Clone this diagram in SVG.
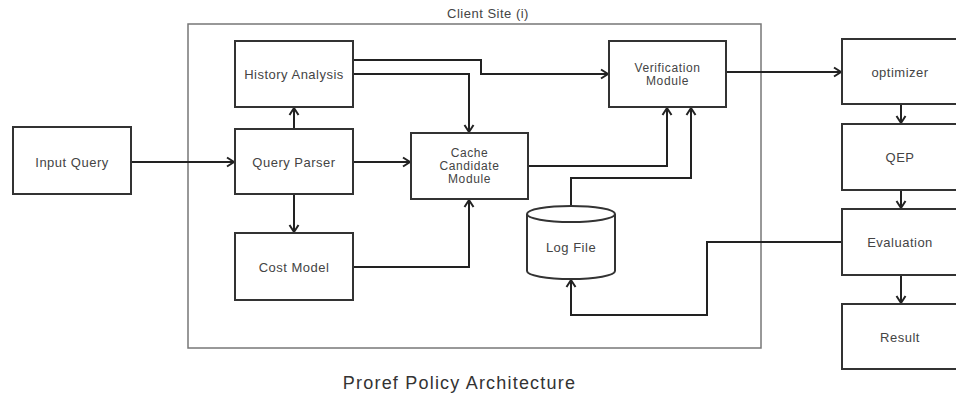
<svg xmlns="http://www.w3.org/2000/svg" width="956" height="403" viewBox="0 0 956 403">
<defs>
<marker id="arr" markerWidth="12" markerHeight="12" refX="10" refY="6" orient="auto" markerUnits="userSpaceOnUse">
<path d="M3,1.5 L10,6 L3,10.5" fill="none" stroke="#222" stroke-width="2"/>
</marker>
<style>
.box{fill:#fff;stroke:#333;stroke-width:2}
.frame{fill:none;stroke:#777;stroke-width:1.5}
.t{font-family:"Liberation Sans",Arial,sans-serif;font-size:13px;letter-spacing:0.5px;fill:#444;text-anchor:middle;dominant-baseline:central}
.m{font-size:12px;letter-spacing:0.6px}
.c{fill:none;stroke:#222;stroke-width:2;marker-end:url(#arr)}
</style>
</defs>
<rect width="956" height="403" fill="#fff"/>
<g id="client-site">
<rect class="frame" x="188" y="24" width="573" height="324"/>
<text class="t" x="488" y="13">Client Site (i)</text>
</g>
<g id="connectors">
<path class="c" d="M131,162 H234"/>
<path class="c" d="M294,129 V108"/>
<path class="c" d="M294,194 V232"/>
<path class="c" d="M353,162 H410"/>
<path class="c" d="M353,60 H481 V74 H608"/>
<path class="c" d="M353,74 H469 V132"/>
<path class="c" d="M353,267 H469 V200"/>
<path class="c" d="M528,166 H667 V108"/>
<path class="c" d="M571,213 V178 H691 V108"/>
<path class="c" d="M726,72 H841"/>
<path class="c" d="M901,104 V123"/>
<path class="c" d="M901,190 V208"/>
<path class="c" d="M901,275 V303"/>
<path class="c" d="M842,242 H707 V315 H571 V280"/>
</g>
<g id="input-query"><rect class="box" x="13" y="127" width="118" height="67"/><text class="t" x="72" y="162">Input Query</text></g>
<g id="history-analysis"><rect class="box" x="235" y="41" width="118" height="66"/><text class="t" x="294" y="74">History Analysis</text></g>
<g id="query-parser"><rect class="box" x="235" y="129" width="118" height="65"/><text class="t" x="294" y="162">Query Parser</text></g>
<g id="cost-model"><rect class="box" x="235" y="233" width="118" height="67"/><text class="t" x="294" y="267">Cost Model</text></g>
<g id="cache-candidate"><rect class="box" x="411" y="133" width="117" height="66"/><text class="t m" x="469.5" y="153">Cache</text><text class="t m" x="469.5" y="166">Candidate</text><text class="t m" x="469.5" y="179">Module</text></g>
<g id="verification"><rect class="box" x="609" y="41" width="117" height="66"/><text class="t m" x="667.5" y="67.5">Verification</text><text class="t m" x="667.5" y="80.5">Module</text></g>
<g id="log-file">
<path class="box" d="M527,214 V271 A44,8 0 0 0 615,271 V214"/>
<ellipse class="box" cx="571" cy="214" rx="44" ry="8"/>
<text class="t" x="571" y="247">Log File</text>
</g>
<g id="optimizer"><rect class="box" x="842" y="39" width="120" height="65"/><text class="t" x="900" y="72">optimizer</text></g>
<g id="qep"><rect class="box" x="842" y="124" width="120" height="66"/><text class="t" x="900" y="157">QEP</text></g>
<g id="evaluation"><rect class="box" x="842" y="209" width="120" height="66"/><text class="t" x="900" y="242">Evaluation</text></g>
<g id="result"><rect class="box" x="842" y="304" width="120" height="65"/><text class="t" x="900" y="337">Result</text></g>
<text class="t" x="459.5" y="383" style="font-size:18px;letter-spacing:1.2px;fill:#333">Proref Policy Architecture</text>
</svg>
